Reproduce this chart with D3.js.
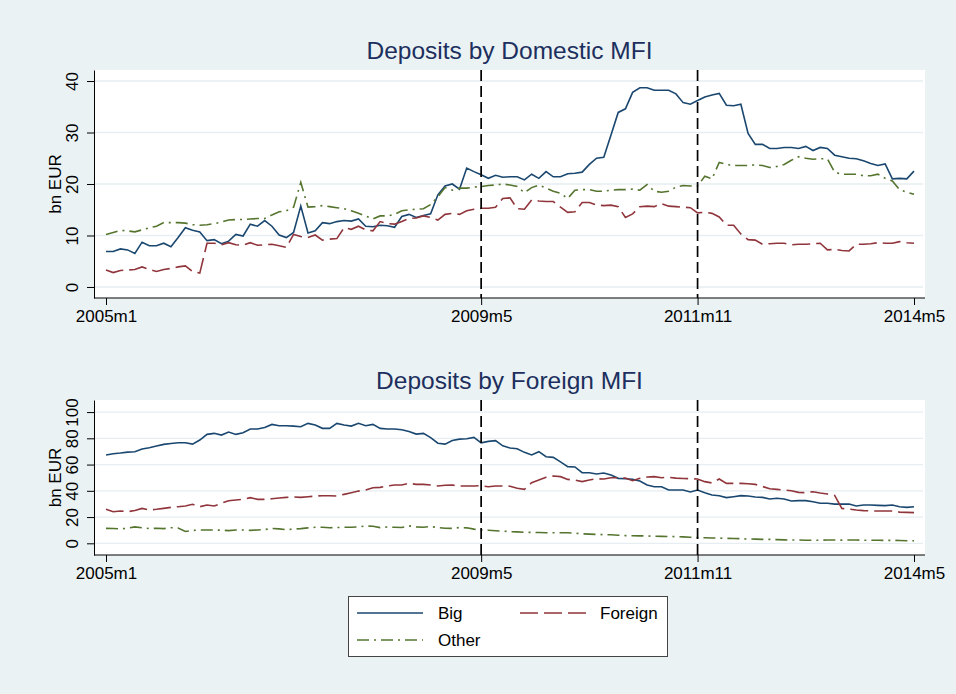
<!DOCTYPE html>
<html>
<head>
<meta charset="utf-8">
<script src="https://cdn.jsdelivr.net/npm/d3@7"></script>
<style>
  body { margin: 0; background: #eaf2f3; }
  svg { display: block; font-family: "Liberation Sans", Arial, sans-serif; }
</style>
</head>
<body>
<svg width="956" height="694"></svg>
<script>
// months are counted from 2005m1 (=0) to 2014m5 (=112)
var tickIdx = [0, 52, 82, 112];
var tickLabels = ["2005m1", "2009m5", "2011m11", "2014m5"];
var eventIdx = [52, 82];
var domTicks = [0, 10, 20, 30, 40];
var forTicks = [0, 20, 40, 60, 80, 100];
var seriesNames = ["Big", "Foreign", "Other"];

// Deposits by Domestic MFI, bn EUR
var bigDom = [6.9,6.9,7.4,7.2,6.5,8.7,8.0,8.0,8.5,7.8,9.6,11.5,11.0,10.7,9.0,9.2,8.4,8.9,10.2,9.9,
  12.2,11.8,12.9,11.8,10.1,9.6,10.6,15.7,10.5,10.9,12.5,12.3,12.7,12.9,12.8,13.2,11.8,11.7,12.0,11.9,
  11.6,13.7,14.1,13.5,13.9,14.2,17.9,19.6,20.0,19.0,23.1,22.4,21.8,21.1,21.7,21.3,21.4,21.4,20.8,21.9,
  21.1,22.4,21.4,21.4,22.0,22.1,22.3,23.8,25.0,25.2,29.5,33.9,34.6,37.8,38.7,38.7,38.2,38.2,38.2,37.5,
  35.8,35.5,36.2,36.9,37.3,37.6,35.3,35.2,35.5,29.8,27.7,27.7,26.9,26.9,27.1,27.1,26.9,27.3,26.5,27.1,
  26.9,25.6,25.3,25.0,24.9,24.5,24.0,23.6,23.9,21.0,21.1,21.0,22.5];
var foreignDom = [3.3,2.8,3.2,3.3,3.4,3.9,3.4,3.0,3.4,3.6,3.9,4.1,3.0,2.7,8.5,8.5,8.2,8.6,8.2,8.1,
  8.6,8.1,8.2,8.3,8.0,7.7,10.2,9.8,9.6,10.1,9.1,9.3,9.4,11.5,11.2,11.8,11.1,10.9,12.7,12.3,
  12.2,12.7,13.3,13.4,13.8,13.5,13.0,14.1,14.3,14.1,14.8,15.1,15.3,15.3,15.5,17.2,17.3,15.2,15.1,16.9,
  16.7,16.6,16.6,15.5,14.5,14.6,16.4,16.4,15.9,15.8,15.9,15.6,13.5,14.2,15.6,15.7,15.6,16.2,15.7,15.6,
  15.5,15.4,14.4,14.5,14.3,13.6,12.0,12.0,10.3,9.2,9.1,8.3,8.4,8.5,8.5,8.2,8.3,8.3,8.4,8.5,
  7.2,7.3,7.1,7.0,8.3,8.3,8.4,8.6,8.5,8.5,8.8,8.6,8.5];
var otherDom = [10.2,10.6,11.0,10.9,10.7,11.1,11.5,11.8,12.5,12.5,12.5,12.4,12.1,12.0,12.1,12.3,12.6,13.0,13.1,13.1,
  13.2,13.3,13.3,14.0,14.6,14.8,15.5,20.3,15.5,15.6,15.8,15.6,15.4,15.2,14.8,14.3,13.8,13.2,13.8,13.8,
  14.1,14.8,15.0,15.1,15.2,16.0,17.5,19.3,18.8,19.2,19.2,19.4,19.5,19.7,19.8,20.0,19.8,19.5,18.3,19.3,
  19.8,19.2,18.6,18.2,17.2,18.8,18.9,18.9,18.6,18.6,18.8,18.9,18.9,19.0,18.8,19.9,18.6,18.4,18.6,19.4,
  19.7,19.6,19.6,21.5,21.0,24.2,23.8,23.6,23.6,23.6,23.7,23.6,23.2,23.4,23.8,24.6,25.3,25.0,24.8,24.9,
  24.9,22.3,21.9,21.9,21.9,21.6,21.6,21.9,21.1,20.6,18.9,18.4,18.0];

// Deposits by Foreign MFI, bn EUR
var bigFor = [67.3,68.3,68.8,69.5,69.8,71.8,72.8,74.1,75.4,76.1,76.6,76.6,75.6,78.7,83.0,83.8,82.5,84.8,83.0,84.3,
  87.1,87.1,88.3,90.6,89.6,89.6,89.3,88.8,91.4,90.1,87.6,87.6,91.4,90.1,89.3,91.4,89.6,90.6,87.6,87.1,
  87.1,86.5,85.2,83.2,83.8,80.5,76.3,75.6,78.4,79.4,79.7,80.7,76.6,77.7,78.2,74.3,72.6,72.0,69.3,67.3,
  69.8,66.0,65.5,62.0,58.4,58.2,53.8,53.8,52.8,53.6,52.0,49.5,49.2,48.7,47.5,44.5,43.1,43.1,40.6,40.6,
  40.6,39.1,40.6,38.6,36.8,36.3,34.8,35.5,36.3,36.0,35.3,35.0,33.8,34.3,33.8,32.2,32.5,32.5,31.7,30.5,
  30.5,29.9,29.9,29.9,28.4,29.2,29.2,28.9,28.7,29.2,27.9,27.4,27.9];
var foreignFor = [25.9,24.1,24.6,24.1,25.0,26.6,25.4,25.9,26.6,27.4,27.9,28.4,29.7,27.9,29.2,28.4,30.5,32.5,33.0,33.5,
  34.8,33.5,33.5,34.0,34.5,35.0,35.3,35.0,35.5,36.0,36.3,36.3,36.0,37.3,38.6,39.8,40.6,42.4,42.6,43.7,
  44.4,44.4,45.7,44.9,44.9,44.4,43.7,44.2,44.4,43.7,43.7,43.7,43.9,43.1,43.7,43.7,43.5,41.9,41.1,46.2,
  48.2,50.3,51.3,50.8,48.7,48.2,47.0,48.2,49.2,49.0,50.0,50.0,49.7,47.7,49.5,50.5,50.8,50.0,50.3,49.7,
  49.4,49.2,49.0,47.0,46.0,49.0,45.7,45.7,45.7,45.4,44.9,43.3,41.6,41.1,40.6,40.1,38.8,38.6,39.3,38.3,
  37.6,36.5,26.6,26.1,25.4,24.9,24.7,24.6,24.6,24.6,23.8,23.6,23.4];
var otherFor = [11.4,11.3,11.0,11.5,12.5,11.8,11.3,11.5,11.2,11.9,11.6,9.0,9.8,10.2,10.2,10.1,10.0,9.7,10.1,10.1,
  9.9,10.2,10.5,11.3,11.0,10.4,10.9,11.2,11.8,12.2,12.2,11.9,12.0,12.3,12.2,12.5,13.2,13.0,12.0,12.5,
  12.2,12.0,13.3,12.5,12.2,12.8,12.0,11.5,11.4,12.0,11.8,10.8,10.2,10.0,9.6,9.3,8.9,8.7,8.4,8.3,
  8.2,8.1,8.1,8.0,8.1,7.7,7.2,7.0,6.8,6.6,6.5,6.2,5.9,5.8,5.7,5.6,5.4,5.3,5.2,5.1,
  4.9,4.6,4.3,4.3,4.1,4.0,3.8,3.7,3.5,3.3,3.2,3.0,3.0,2.8,2.6,2.5,2.5,2.3,2.3,2.4,
  2.5,2.5,2.4,2.5,2.5,2.4,2.3,2.3,2.2,2.3,2.1,2.0,2.0];

var colors = { Big: "#1a476f", Foreign: "#90353b", Other: "#55752f" };
var dashes = { Big: null, Foreign: "18,6", Other: "12,5,2,5" };

var svg = d3.select("svg");
var left = 94, right = 925;
var x = d3.scaleLinear().domain([0, 112]).range([106, 914]);

function panel(title, top, bottom, yDomain, ticks, rows) {
  var y = d3.scaleLinear().domain(yDomain).range([bottom, top]);
  var g = svg.append("g");

  g.append("rect").attr("x", left).attr("y", top)
    .attr("width", right - left).attr("height", bottom - top).attr("fill", "#fff");

  // grid
  g.selectAll(".grid").data(ticks).enter().append("line")
    .attr("x1", left).attr("x2", right - 2)
    .attr("y1", function(d) { return y(d); }).attr("y2", function(d) { return y(d); })
    .attr("stroke", "#e6eef1").attr("stroke-width", 1.3);

  // series
  var line = d3.line().x(function(d, i) { return x(i); }).y(function(d) { return y(d); });
  seriesNames.forEach(function(name, k) {
    g.append("path").datum(rows[k])
      .attr("d", line).attr("fill", "none")
      .attr("stroke", colors[name]).attr("stroke-width", 1.6)
      .attr("stroke-dasharray", dashes[name]);
  });

  // event lines
  g.selectAll(".ev").data(eventIdx).enter().append("line")
    .attr("x1", function(d) { return x(d); }).attr("x2", function(d) { return x(d); })
    .attr("y1", top).attr("y2", bottom)
    .attr("stroke", "#000").attr("stroke-width", 1.7).attr("stroke-dasharray", "11,5");

  // axes
  var gy = g.append("g").attr("transform", "translate(" + left + ",0)")
    .call(d3.axisLeft(y).tickValues(ticks).tickSize(7).tickSizeOuter(0));
  gy.select(".domain").attr("stroke", "#000");
  gy.selectAll(".tick text")
    .attr("x", 0).attr("dy", 0).attr("text-anchor", "middle")
    .attr("transform", "translate(-16,0) rotate(-90)")
    .style("font-size", "17px").attr("fill", "#000");

  var gx = g.append("g").attr("transform", "translate(0," + bottom + ")")
    .call(d3.axisBottom(x).tickValues(tickIdx).tickSize(7)
      .tickFormat(function(d, i) { return tickLabels[i]; }));
  gx.select(".domain").remove();
  gx.append("line").attr("x1", left).attr("x2", right).attr("stroke", "#000");
  gx.selectAll(".tick text").attr("y", 12).style("font-size", "17px").attr("fill", "#000");

  g.append("text")
    .attr("transform", "translate(61," + (top + bottom) / 2 + ") rotate(-90)")
    .attr("text-anchor", "middle").style("font-size", "17px").text("bn EUR");

  g.append("text").attr("x", (left + right) / 2).attr("y", top - 11)
    .attr("text-anchor", "middle").style("font-size", "24.5px").attr("fill", "#1c2f5e")
    .text(title);
}

panel("Deposits by Domestic MFI", 70, 298, [-2.14, 42.14], domTicks, [bigDom, foreignDom, otherDom]);
panel("Deposits by Foreign MFI", 400, 555, [-8.9, 109.2], forTicks, [bigFor, foreignFor, otherFor]);

// legend
var lg = svg.append("g");
lg.append("rect").attr("x", 348.5).attr("y", 596.5).attr("width", 319).attr("height", 60)
  .attr("fill", "#fff").attr("stroke", "#444");
var legendPos = [[357, 613], [520, 613], [357, 640]];
seriesNames.forEach(function(name, k) {
  var p = legendPos[k];
  lg.append("line").attr("x1", p[0]).attr("x2", p[0] + 66).attr("y1", p[1]).attr("y2", p[1])
    .attr("stroke", colors[name]).attr("stroke-width", 1.6).attr("stroke-dasharray", dashes[name]);
  lg.append("text").attr("x", k === 1 ? 600 : 438).attr("y", p[1] + 6)
    .style("font-size", "17px").text(name);
});
</script>
</body>
</html>
